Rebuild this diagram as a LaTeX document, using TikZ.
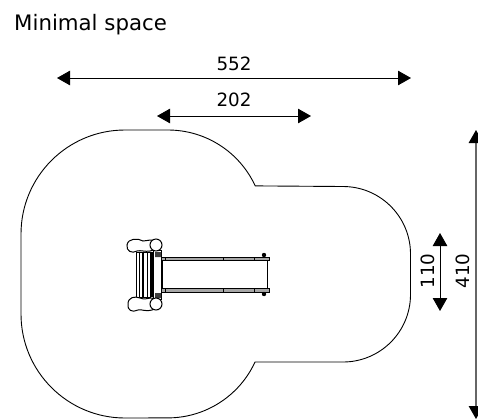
\documentclass[tikz,border=0pt]{standalone}
\usepackage{fontspec}
\setmainfont{DejaVu Sans}
\usetikzlibrary{arrows.meta}
\tikzset{
  dim/.style={{Triangle[length=13pt,width=14.5pt]}-{Triangle[length=13pt,width=14.5pt]},line width=0.9pt},
  dimlabel/.style={font=\fontsize{18.3}{18}\selectfont,inner sep=0pt},
  part/.style={line width=1pt,fill=white},
  thin part/.style={line width=0.7pt},
}
\begin{document}
\begin{tikzpicture}[x=1pt,y=-1pt]
	\useasboundingbox (0,0) rectangle (478,418);
	\node[anchor=base west,inner sep=0pt,font=\fontsize{21.3}{21}\selectfont] (title) at (14,30) {Minimal space};
	% outline
	\draw[line width=0.9pt] (125,130) -- (168,130)
		arc[start angle=-90,end angle=-24.7,radius=96] -- (343,186.5)
		arc[start angle=-90,end angle=0,radius=67.5] -- (410.5,294.5)
		arc[start angle=0,end angle=90,radius=67.5] -- (255,362)
		arc[start angle=24.7,end angle=90,radius=96] -- (125,418)
		arc[start angle=90,end angle=180,radius=104] -- (21,234)
		arc[start angle=180,end angle=270,radius=104] -- cycle;
	% dimensions
	\coordinate (a1) at (57,78);
	\coordinate (a2) at (411,78);
	\coordinate (b1) at (157,116);
	\coordinate (b2) at (311,116);
	\coordinate (c1) at (440,233);
	\coordinate (c2) at (440,311);
	\coordinate (d1) at (476,130);
	\coordinate (d2) at (476,419);
	\draw[dim] (a1) -- (a2);
	\draw[dim] (b1) -- (b2);
	\draw[dim] (c1) -- (c2);
	\draw[dim,line width=1.3pt,draw=black!60,{Triangle[length=13pt,width=14.5pt,black]}-{Triangle[length=13pt,width=14.5pt,black]}] (d1) -- (d2);
	\node[dimlabel] (lab552) at (234,64) {552};
	\node[dimlabel] (lab202) at (234,100) {202};
	\node[dimlabel,rotate=90] (lab110) at (428,271) {110};
	\node[dimlabel,rotate=90] (lab410) at (463,271) {410};
	% slide
	\draw[part,fill=black!35] (158,257) rectangle (269,260);
	\draw[part,fill=black!35] (158,288) rectangle (269,292);
	\draw[thin part] (267,260) -- (267,288) (162,260) -- (162,288);
	\draw[thin part] (165,257) -- (165,260) (223,257) -- (223,260) (254,257) -- (254,260);
	\draw[thin part] (165,288) -- (165,292) (223,288) -- (223,292) (254,288) -- (254,292);
	\fill (264,255) circle (2.2pt) (264,294) circle (2.2pt);
	% platform
	\draw[part] (153,250) rectangle (161,299);
	\fill[black!75] (155,252) rectangle (161,257) (155,293) rectangle (161,298);
	% rollers
	\draw[part] (136,252) rectangle (142,297);
	\draw[part] (143,252) rectangle (150,297);
	\fill (150,252) rectangle (154,297);
	\draw[thin part] (139,252) -- (139,297) (147,252) -- (147,297);
	% posts
	\draw[part] (127,245) .. controls (128,238) and (138,238) .. (143,241)
		.. controls (146,241) and (148,240) .. (152,240)
		.. controls (158,242) and (157,250) .. (150,251)
		.. controls (145,252) and (141,250) .. (137,251)
		.. controls (132,254) and (126,251) .. (127,245) -- cycle;
	\draw[part] (156,245) circle (6pt);
	\draw[part] (128,304) .. controls (128,297) and (135,296) .. (140,298)
		.. controls (144,300) and (148,298) .. (152,298)
		.. controls (158,300) and (158,309) .. (152,310)
		.. controls (146,312) and (142,309) .. (138,310)
		.. controls (132,313) and (127,310) .. (128,304) -- cycle;
	\draw[part] (156,304) circle (6pt);
\end{tikzpicture}
\end{document}
